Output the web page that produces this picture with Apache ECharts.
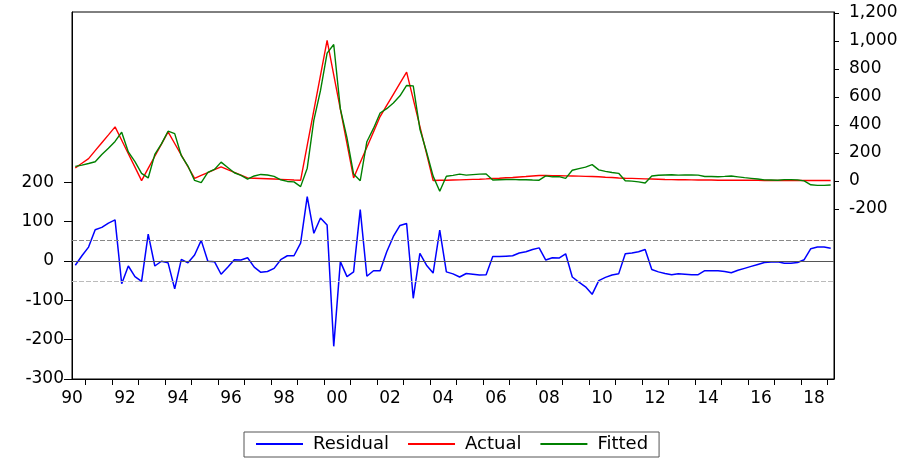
<!DOCTYPE html>
<html>
<head>
<meta charset="utf-8">
<script src="https://cdn.jsdelivr.net/npm/echarts@6/dist/echarts.min.js"></script>
<style>
  html, body { margin: 0; padding: 0; background: #fff; }
  #chart { width: 906px; height: 461px; }
</style>
</head>
<body>
<div id="chart"></div>
<script>
// Quarterly observations 1990Q3 .. 2019Q1 (115 quarters)
const startYear = 1990, startQuarter = 3, nObs = 115;
const quarters = [];
for (let k = 0; k < nObs; k++) {
  const qi = (startQuarter - 1) + k;
  quarters.push((startYear + Math.floor(qi / 4)) + 'Q' + (qi % 4 + 1));
}

const residual = [
  -11, 13, 35, 79, 85, 96, 104, -58, -13, -40,
  -52, 68, -13, -1, -5, -71, 4, -5, 15, 52,
  -1, -2, -34, -16, 3, 2, 8, -16, -29, -27,
  -19, 3, 13, 13, 45, 163, 70, 109, 91, -217,
  -2, -40, -28, 130, -39, -25, -25, 23, 62, 90,
  95, -95, 19, -11, -31, 78, -28, -33, -41, -32,
  -34, -36, -35, 11, 11, 12, 13, 20, 23, 29,
  33, 2, 8, 7, 18, -41, -54, -66, -85, -50,
  -42, -36, -33, 18, 20, 23, 29, -22, -28, -32,
  -35, -33, -34, -35, -35, -25, -25, -25, -27, -30,
  -24, -19, -14, -9, -4, -3, -2, -6, -6, -4,
  3, 31, 35, 35, 32
];

const actual = [
  93, 126, 159, 216, 273, 329, 386, 290, 194, 98,
  2, 89, 176, 263, 350, 267, 184, 101, 18, 39,
  59, 80, 100, 80, 61, 41, 21, 19, 17, 15,
  13, 11, 9, 6, 4, 254, 504, 754, 1004, 758,
  513, 267, 21, 131, 241, 350, 460, 539, 619, 698,
  777, 584, 390, 197, 3, 4, 5, 6, 7, 9,
  11, 12, 14, 17, 19, 22, 24, 28, 31, 35,
  38, 38, 37, 37, 36, 35, 34, 32, 31, 29,
  26, 24, 21, 19, 18, 16, 14, 13, 12, 10,
  9, 8, 8, 7, 6, 6, 6, 5, 5, 5,
  5, 4, 4, 4, 3, 3, 3, 3, 3, 3,
  3, 3, 3, 3, 3
];

const fitted = [
  104, 113, 124, 137, 188, 233, 282, 348, 207, 138,
  54, 21, 189, 264, 355, 338, 180, 106, 3, -13,
  60, 82, 134, 96, 58, 39, 13, 35, 46, 42,
  32, 8, -4, -7, -41, 91, 434, 645, 913, 975,
  515, 307, 49, 1, 280, 375, 485, 516, 557, 608,
  682, 679, 371, 208, 34, -74, 33, 39, 48, 41,
  45, 48, 49, 6, 8, 10, 11, 8, 8, 6,
  5, 36, 29, 30, 18, 76, 88, 98, 116, 79,
  68, 60, 54, 1, -2, -7, -15, 35, 40, 42,
  44, 41, 42, 42, 41, 31, 31, 30, 32, 35,
  29, 23, 18, 13, 7, 6, 5, 9, 9, 7,
  0, -28, -32, -32, -29
];

const yearLabels = ['90','92','94','96','98','00','02','04','06','08','10','12','14','16','18'];
const leftTicks = [-300, -200, -100, 0, 100, 200];
const rightTicks = [-200, 0, 200, 400, 600, 800, 1000, 1200];
const seBand = 52;

// position of a quarter on the time axis (quarters since 1990Q1, centred in its quarter)
function qPos(label) {
  const y = parseInt(label.slice(0, 4), 10);
  const q = parseInt(label.slice(5), 10);
  return (y - 1990) * 4 + (q - 1) + 0.5;
}
const pair = arr => arr.map((v, k) => [qPos(quarters[k]), v]);

const axisMin = qPos(quarters[0]) - 0.5;
const axisMax = qPos(quarters[nObs - 1]) + 0.5;
const yearTickVals = [];
for (let t = 4; t <= axisMax - 1; t += 4) yearTickVals.push(t);
const yearLabelVals = yearLabels.map((s, k) => 2 + 8 * k);

const FONT = 'DejaVu Sans';

const chart = echarts.init(document.getElementById('chart'));
chart.setOption({
  animation: false,
  backgroundColor: '#fff',
  grid: { left: 72, right: 72, top: 12, bottom: 82, show: true, borderColor: '#000', borderWidth: 1 },
  legend: {
    left: 244, top: 432,
    padding: [3, 11, 4, 12],
    borderColor: '#555', borderWidth: 1,
    itemWidth: 47, itemHeight: 2, itemGap: 19,
    icon: 'rect',
    textStyle: { fontFamily: FONT, fontSize: 18, color: '#000', padding: [0, 0, 0, 5] },
    data: ['Residual', 'Actual', 'Fitted']
  },
  xAxis: {
    type: 'value', min: axisMin, max: axisMax,
    axisLine: { onZero: false, lineStyle: { color: '#000', width: 1 } },
    axisTick: { show: true, length: 6, lineStyle: { color: '#000' }, customValues: yearTickVals },
    axisLabel: {
      customValues: yearLabelVals, margin: 11,
      fontFamily: FONT, fontSize: 17, color: '#000',
      formatter: v => { const k = Math.round((v - 2) / 8); return yearLabels[k] || ''; }
    },
    splitLine: { show: false }
  },
  yAxis: [
    {
      type: 'value', position: 'left', min: -300, max: 632,
      axisLine: { show: true, lineStyle: { color: '#000', width: 1 } },
      axisTick: { show: true, length: 8, lineStyle: { color: '#000' }, customValues: leftTicks },
      axisLabel: {
        customValues: leftTicks, margin: 8,
        fontFamily: FONT, fontSize: 17, color: '#000',
        formatter: v => v >= 0 ? '{p|' + v + '}' : '{n|' + v + '}',
        rich: {
          p: { fontFamily: FONT, fontSize: 17, color: '#000', padding: [0, 10, 0, 0] },
          n: { fontFamily: FONT, fontSize: 17, color: '#000' }
        }
      },
      splitLine: { show: false }
    },
    {
      type: 'value', position: 'right', min: -1416, max: 1207,
      axisLine: { show: true, lineStyle: { color: '#000', width: 1 } },
      axisTick: { show: true, length: 5, lineStyle: { color: '#000' }, customValues: rightTicks },
      axisLabel: {
        customValues: rightTicks, margin: 15,
        fontFamily: FONT, fontSize: 17, color: '#000',
        formatter: v => v.toLocaleString('en-US')
      },
      splitLine: { show: false }
    }
  ],
  series: [
    {
      name: 'Residual', type: 'line', yAxisIndex: 0, data: pair(residual),
      showSymbol: false, symbol: 'none', color: '#0000ff',
      lineStyle: { color: '#0000ff', width: 1.5 },
      markLine: {
        silent: true, symbol: 'none', label: { show: false },
        data: [
          { yAxis: 0, lineStyle: { color: '#555', type: 'solid', width: 1.2 } },
          { yAxis: seBand, lineStyle: { color: '#888', type: [5, 2], width: 1 } },
          { yAxis: -seBand, lineStyle: { color: '#bbb', type: [5, 2], width: 1.2 } }
        ]
      },
      z: 3
    },
    {
      name: 'Actual', type: 'line', yAxisIndex: 1, data: pair(actual),
      showSymbol: false, symbol: 'none', color: '#ff0000',
      lineStyle: { color: '#ff0000', width: 1.4 }, z: 2
    },
    {
      name: 'Fitted', type: 'line', yAxisIndex: 1, data: pair(fitted),
      showSymbol: false, symbol: 'none', color: '#008000',
      lineStyle: { color: '#008000', width: 1.4 }, z: 2
    }
  ]
});
</script>
</body>
</html>
